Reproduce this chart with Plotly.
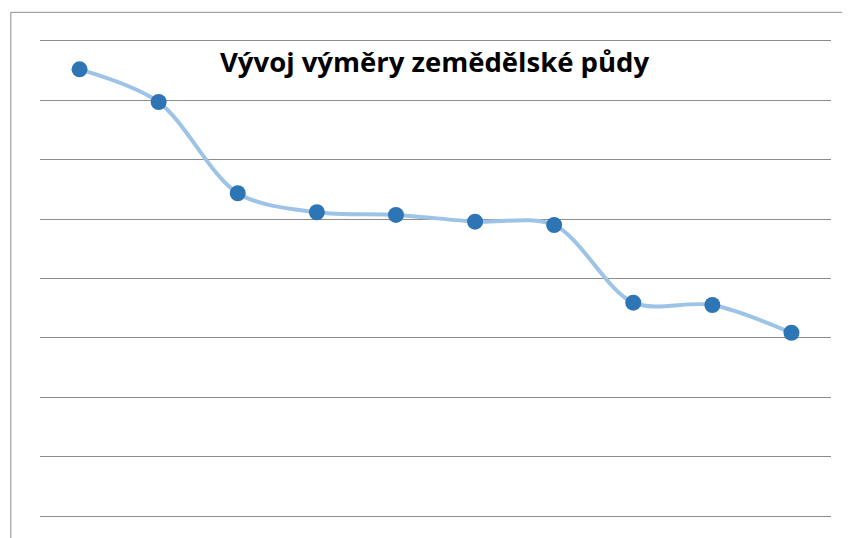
import plotly.graph_objects as go

categories = ["1", "2", "3", "4", "5", "6", "7", "8", "9", "10"]
values = [7.52, 6.97, 5.435, 5.115, 5.07, 4.957, 4.90, 3.593, 3.554, 3.087]
title_text = "Vývoj výměry zemědělské půdy"

OFF = 8  # default body margin of the html page
PAGE_W, PAGE_H = 850, 538
W, H = PAGE_W - OFF, PAGE_H - OFF

# y range chosen so gridlines 0..8 land at page pixels 516..41
YMIN, YMAX = -0.3, 8.3
unit = (516 - 41) / 8.0
top_page = 41 - (YMAX - 8) * unit
bot_page = 516 + (0 - YMIN) * unit
L = 39.7 - OFF
R = PAGE_W - 831.3
T = top_page - OFF
B = PAGE_H - bot_page
pw = W - L - R
ph = H - T - B

def px_x(p):
    return (p - OFF - L) / pw

def px_y(p):
    return (PAGE_H - B - p) / ph

fig = go.Figure()
fig.add_trace(go.Scatter(
    x=categories, y=values, mode="lines",
    line=dict(color="#9DC3E6", width=4, shape="spline", smoothing=0.9),
    hoverinfo="skip", showlegend=False,
))
fig.add_trace(go.Scatter(
    x=categories, y=values, mode="markers",
    marker=dict(color="#2E75B6", size=16),
    showlegend=False,
))

fig.update_layout(
    width=W, height=H,
    margin=dict(l=L, r=R, t=T, b=B, pad=0),
    paper_bgcolor="white", plot_bgcolor="white",
    xaxis=dict(type="category", range=[-0.5, 9.5], showgrid=False,
               showticklabels=False, zeroline=False, showline=False, ticks=""),
    yaxis=dict(range=[YMIN, YMAX], dtick=1, tick0=0, showgrid=True, gridcolor="#8C8C8C",
               gridwidth=1, showticklabels=False, zeroline=False, showline=False,
               ticks=""),
    shapes=[dict(type="rect", xref="paper", yref="paper",
                 x0=px_x(10.5), x1=px_x(PAGE_W + 5), y0=px_y(PAGE_H + 5), y1=px_y(12.5),
                 line=dict(color="#8C8C8C", width=1), fillcolor="rgba(0,0,0,0)",
                 layer="above")],
    annotations=[dict(text="<b>" + title_text + "</b>", xref="paper", yref="paper",
                      x=px_x(434.5), y=px_y(62), xanchor="center", yanchor="middle",
                      showarrow=False,
                      font=dict(family="Open Sans", size=27.5, color="black"))],
)

fig.write_html("out.html")
